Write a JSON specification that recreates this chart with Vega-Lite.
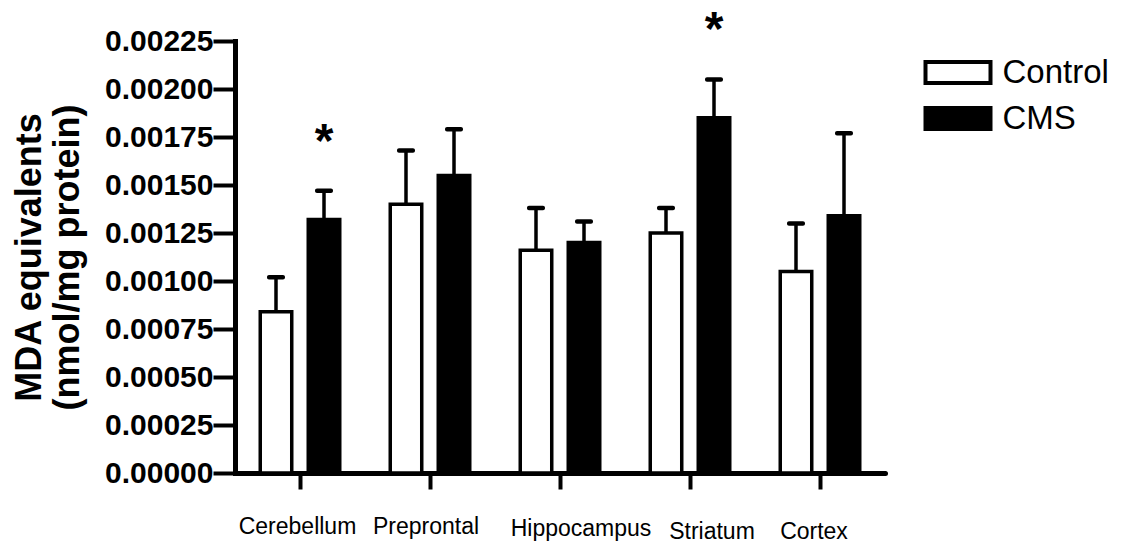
{
  "$schema": "https://vega.github.io/schema/vega-lite/v6.json",
  "width": 650,
  "height": 432,
  "autosize": {"type": "none"},
  "padding": {"left": 235, "top": 41, "right": 237, "bottom": 72},
  "background": "white",
  "config": {
    "view": {"stroke": null},
    "font": "Liberation Sans",
    "legend": {"padding": 0}
  },
  "data": {
    "values": [
      {"region": "Cerebellum", "group": "Control", "mean": 0.00084, "upper": 0.00102, "sig": ""},
      {"region": "Cerebellum", "group": "CMS", "mean": 0.00132, "upper": 0.00147, "sig": "*"},
      {"region": "Preprontal", "group": "Control", "mean": 0.00140, "upper": 0.00168, "sig": ""},
      {"region": "Preprontal", "group": "CMS", "mean": 0.00155, "upper": 0.00179, "sig": ""},
      {"region": "Hippocampus", "group": "Control", "mean": 0.00116, "upper": 0.00138, "sig": ""},
      {"region": "Hippocampus", "group": "CMS", "mean": 0.00120, "upper": 0.00131, "sig": ""},
      {"region": "Striatum", "group": "Control", "mean": 0.00125, "upper": 0.00138, "sig": ""},
      {"region": "Striatum", "group": "CMS", "mean": 0.00185, "upper": 0.00205, "sig": "*"},
      {"region": "Cortex", "group": "Control", "mean": 0.00105, "upper": 0.00130, "sig": ""},
      {"region": "Cortex", "group": "CMS", "mean": 0.00134, "upper": 0.00177, "sig": ""}
    ]
  },
  "encoding": {
    "x": {
      "field": "region",
      "type": "nominal",
      "sort": ["Cerebellum", "Preprontal", "Hippocampus", "Striatum", "Cortex"],
      "scale": {"paddingInner": 0, "paddingOuter": 0},
      "axis": {
        "title": null,
        "labelAngle": 0,
        "labelFont": "Liberation Sans",
        "labelFontSize": 23,
        "labelFontWeight": "normal",
        "labelColor": "black",
        "labelBaseline": "alphabetic",
        "labelOffset": {
          "condition": [
            {"test": "datum.value === 'Hippocampus'", "value": 21},
            {"test": "datum.value === 'Striatum'", "value": 22},
            {"test": "datum.value === 'Cortex'", "value": -6},
            {"test": "datum.value === 'Preprontal'", "value": -4}
          ],
          "value": -2.5
        },
        "labelPadding": {
          "condition": [
            {"test": "datum.value === 'Hippocampus'", "value": 46.5},
            {"test": "datum.value === 'Striatum'", "value": 49},
            {"test": "datum.value === 'Cortex'", "value": 49}
          ],
          "value": 44
        },
        "tickSize": 16,
        "tickWidth": 4,
        "tickColor": "black",
        "domainWidth": 5,
        "domainColor": "black",
        "domainCap": "round",
        "labelOverlap": false
      }
    },
    "xOffset": {
      "field": "group",
      "type": "nominal",
      "sort": ["Control", "CMS"],
      "scale": {"paddingInner": 0.344, "paddingOuter": 0.526}
    }
  },
  "layer": [
    {
      "mark": {"type": "bar", "stroke": "black", "strokeWidth": 3.5},
      "encoding": {
        "y": {
          "field": "mean",
          "type": "quantitative",
          "scale": {"domain": [0, 0.00225], "nice": false},
          "axis": {
            "values": [0, 0.00025, 0.0005, 0.00075, 0.001, 0.00125, 0.0015, 0.00175, 0.002, 0.00225],
            "format": ".5f",
            "grid": false,
            "labelFont": "Liberation Sans",
            "labelFontSize": 30,
            "labelFontWeight": "bold",
            "labelColor": "black",
            "labelPadding": 0,
            "labelFlush": false,
            "labelOverlap": false,
            "tickSize": 22,
            "tickWidth": 4,
            "tickColor": "black",
            "domainWidth": 5,
            "domainColor": "black",
            "domainCap": "square",
            "title": ["MDA equivalents", "(nmol/mg protein)"],
            "titleFont": "Liberation Sans",
            "titleFontSize": 36,
            "titleFontWeight": "bold",
            "titleColor": "black",
            "titleLineHeight": 38,
            "titlePadding": 18
          }
        },
        "fill": {
          "field": "group",
          "type": "nominal",
          "sort": ["Control", "CMS"],
          "scale": {"domain": ["Control", "CMS"], "range": ["white", "black"]},
          "legend": {
            "title": null,
            "orient": "none",
            "legendX": 696,
            "legendY": 4.5,
            "symbolType": "M-1.3,-0.42H1.3V0.42H-1.3Z",
            "symbolSize": 2500,
            "symbolStrokeColor": "black",
            "symbolStrokeWidth": 4,
            "labelFont": "Liberation Sans",
            "labelFontSize": 33,
            "labelColor": "black",
            "labelOffset": 17.5,
            "labelBaseline": "middle",
            "rowPadding": -1
          }
        }
      }
    },
    {
      "mark": {"type": "rule", "color": "black", "strokeWidth": 3.5},
      "encoding": {
        "y": {"field": "mean", "type": "quantitative"},
        "y2": {"field": "upper"}
      }
    },
    {
      "mark": {"type": "tick", "color": "black", "thickness": 4.5, "size": 18, "cornerRadius": 2, "opacity": 1},
      "encoding": {
        "y": {"field": "upper", "type": "quantitative"}
      }
    },
    {
      "mark": {"type": "text", "font": "Liberation Sans", "fontSize": 48, "fontWeight": "bold", "color": "black", "baseline": "alphabetic", "dy": -34},
      "encoding": {
        "y": {"field": "upper", "type": "quantitative"},
        "text": {"field": "sig"}
      }
    }
  ]
}
